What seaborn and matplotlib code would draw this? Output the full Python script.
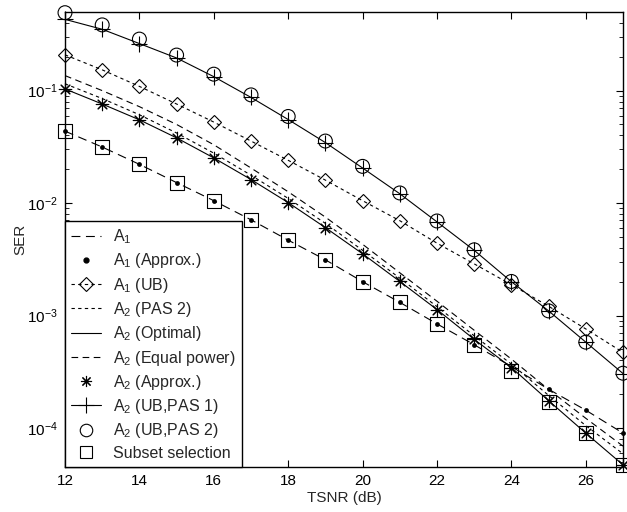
import numpy as np
import pandas as pd
import matplotlib
matplotlib.use("Agg")
import matplotlib.pyplot as plt
import seaborn as sns
from matplotlib.lines import Line2D
from matplotlib.ticker import LogLocator, NullFormatter

tsnr = [12, 13, 14, 15, 16, 17, 18, 19, 20, 21, 22, 23, 24, 25, 26, 27]

a1 = [0.0436, 0.0315, 0.0221, 0.0152, 0.0105, 0.0071, 0.00468, 0.00313, 0.0020,
      0.00131, 0.000843, 0.00055, 0.000352, 0.000221, 0.000144, 0.000090]
subset = [0.0436, 0.0315, 0.0221, 0.0152, 0.0105, 0.0071, 0.00468, 0.00313, 0.0020,
          0.00131, 0.000843, 0.000543, 0.000321, 0.000171, 0.000090, 0.000047]
a1_ub = [0.208, 0.153, 0.109, 0.076, 0.0525, 0.0356, 0.024, 0.016, 0.0105,
         0.00697, 0.0044, 0.00288, 0.00188, 0.00121, 0.00076, 0.00047]
a2_opt = [0.1035, 0.076, 0.055, 0.038, 0.0252, 0.0162, 0.0101, 0.00605, 0.00354,
          0.00201, 0.00113, 0.000614, 0.000345, 0.000175, 0.000090, 0.000047]
a2_pas2 = [0.115, 0.085, 0.061, 0.042, 0.0278, 0.0177, 0.011, 0.0066, 0.0038,
           0.00215, 0.0012, 0.00066, 0.00037, 0.000195, 0.000105, 0.000059]
a2_eq = [0.136, 0.100, 0.072, 0.050, 0.033, 0.0205, 0.0126, 0.0075, 0.0043,
         0.0024, 0.00134, 0.00074, 0.00041, 0.00022, 0.000122, 0.000069]
a2_ub1 = [0.43, 0.351, 0.262, 0.195, 0.133, 0.087, 0.0553, 0.0345, 0.0205,
          0.0121, 0.0068, 0.0038, 0.0020, 0.0011, 0.00058, 0.000305]
a2_ub2 = [0.493, 0.384, 0.287, 0.207, 0.140, 0.0916, 0.0589, 0.0356, 0.0212,
          0.0123, 0.00693, 0.00384, 0.00201, 0.0011, 0.00058, 0.000307]

labels = ["A$_1$", "A$_1$ (Approx.)", "A$_1$ (UB)", "A$_2$ (PAS 2)", "A$_2$ (Optimal)",
          "A$_2$ (Equal power)", "A$_2$ (Approx.)", "A$_2$ (UB,PAS 1)", "A$_2$ (UB,PAS 2)",
          "Subset selection"]
xticks = [12, 14, 16, 18, 20, 22, 24, 26]

sns.set_style("ticks")
plt.rcParams["font.family"] = ["Liberation Sans", "DejaVu Sans"]
plt.rcParams["mathtext.default"] = "regular"
plt.rcParams["xtick.direction"] = "in"
plt.rcParams["ytick.direction"] = "in"

fig = plt.figure(figsize=(6.27, 5.12), dpi=100)
ax = fig.add_axes([65/627, 1-467/512, (623-65)/627, (467-12)/512])

k = "k"
lw = 0.8
ast = (8, 2, 0)
LD = (0, (8, 5))
SD = (0, (3, 3))
MD = (0, (6, 4))
FS = 11

sns.lineplot(x=tsnr, y=a1, ax=ax, color=k, lw=lw, linestyle=LD)
sns.scatterplot(x=tsnr, y=a1, ax=ax, color=k, marker="o", s=12, edgecolor=k,
                linewidth=0, clip_on=False, zorder=4)
sns.lineplot(x=tsnr, y=a1_ub, ax=ax, color=k, lw=lw, linestyle=SD, marker="D",
             markersize=7, markerfacecolor="none", markeredgecolor=k, markeredgewidth=0.8,
             clip_on=False)
sns.lineplot(x=tsnr, y=a2_pas2, ax=ax, color=k, lw=lw, linestyle=SD)
sns.lineplot(x=tsnr, y=a2_opt, ax=ax, color=k, lw=lw, linestyle="-")
sns.lineplot(x=tsnr, y=a2_eq, ax=ax, color=k, lw=lw, linestyle=MD)
sns.scatterplot(x=tsnr, y=a2_opt, ax=ax, color=k, marker=ast, s=80, linewidth=0.8,
                edgecolor=k, clip_on=False, zorder=4)
sns.lineplot(x=tsnr, y=a2_ub1, ax=ax, color=k, lw=lw, linestyle="-", marker="+",
             markersize=11, markeredgewidth=0.8, markeredgecolor=k, clip_on=False)
sns.scatterplot(x=tsnr, y=a2_ub2, ax=ax, marker="o", s=100, facecolor="none",
                edgecolor=k, linewidth=0.8, clip_on=False, zorder=4)
sns.scatterplot(x=tsnr, y=subset, ax=ax, marker="s", s=100, facecolor="none",
                edgecolor=k, linewidth=0.8, clip_on=False, zorder=4)

ax.set_yscale("log")
ax.set_xlim(12, 27)
ax.set_ylim(4.5e-5, 0.5)
ax.set_xticks(xticks)
ax.set_xticklabels([str(v) for v in xticks])
ax.yaxis.set_major_locator(LogLocator(base=10, numticks=10))
ax.yaxis.set_minor_locator(LogLocator(base=10, subs=np.arange(2, 10), numticks=20))
ax.yaxis.set_minor_formatter(NullFormatter())
ax.tick_params(which="both", top=True, right=True, direction="in", labelsize=FS, colors=k)
ax.tick_params(which="major", length=5, width=0.8, pad=5)
ax.tick_params(which="minor", length=3, width=0.6)
for sp in ax.spines.values():
    sp.set_linewidth(1.0)
    sp.set_color(k)
ax.set_xlabel("TSNR (dB)", fontsize=FS, labelpad=2)
ax.set_ylabel("SER", fontsize=FS, labelpad=0)

handles = [
    Line2D([], [], color=k, lw=lw, linestyle=LD),
    Line2D([], [], color=k, lw=0, marker="o", markersize=3.5),
    Line2D([], [], color=k, lw=lw, linestyle=SD, marker="D", markersize=7,
           markerfacecolor="none", markeredgewidth=0.8),
    Line2D([], [], color=k, lw=lw, linestyle=SD),
    Line2D([], [], color=k, lw=lw, linestyle="-"),
    Line2D([], [], color=k, lw=lw, linestyle=MD),
    Line2D([], [], color=k, lw=0, marker=ast, markersize=8, markeredgewidth=0.8),
    Line2D([], [], color=k, lw=lw, linestyle="-", marker="+", markersize=11, markeredgewidth=0.8),
    Line2D([], [], color=k, lw=0, marker="o", markersize=9, markerfacecolor="none", markeredgewidth=0.8),
    Line2D([], [], color=k, lw=0, marker="s", markersize=9, markerfacecolor="none", markeredgewidth=0.8),
]
leg = ax.legend(handles, labels, loc="lower left", fontsize=11.5, frameon=True,
                fancybox=False, edgecolor=k, framealpha=1, borderaxespad=0,
                labelspacing=0.33, handlelength=1.85, handletextpad=0.75, borderpad=0.4)
leg.get_frame().set_linewidth(1.0)
leg.set_zorder(10)

fig.savefig("out.png", dpi=100)
